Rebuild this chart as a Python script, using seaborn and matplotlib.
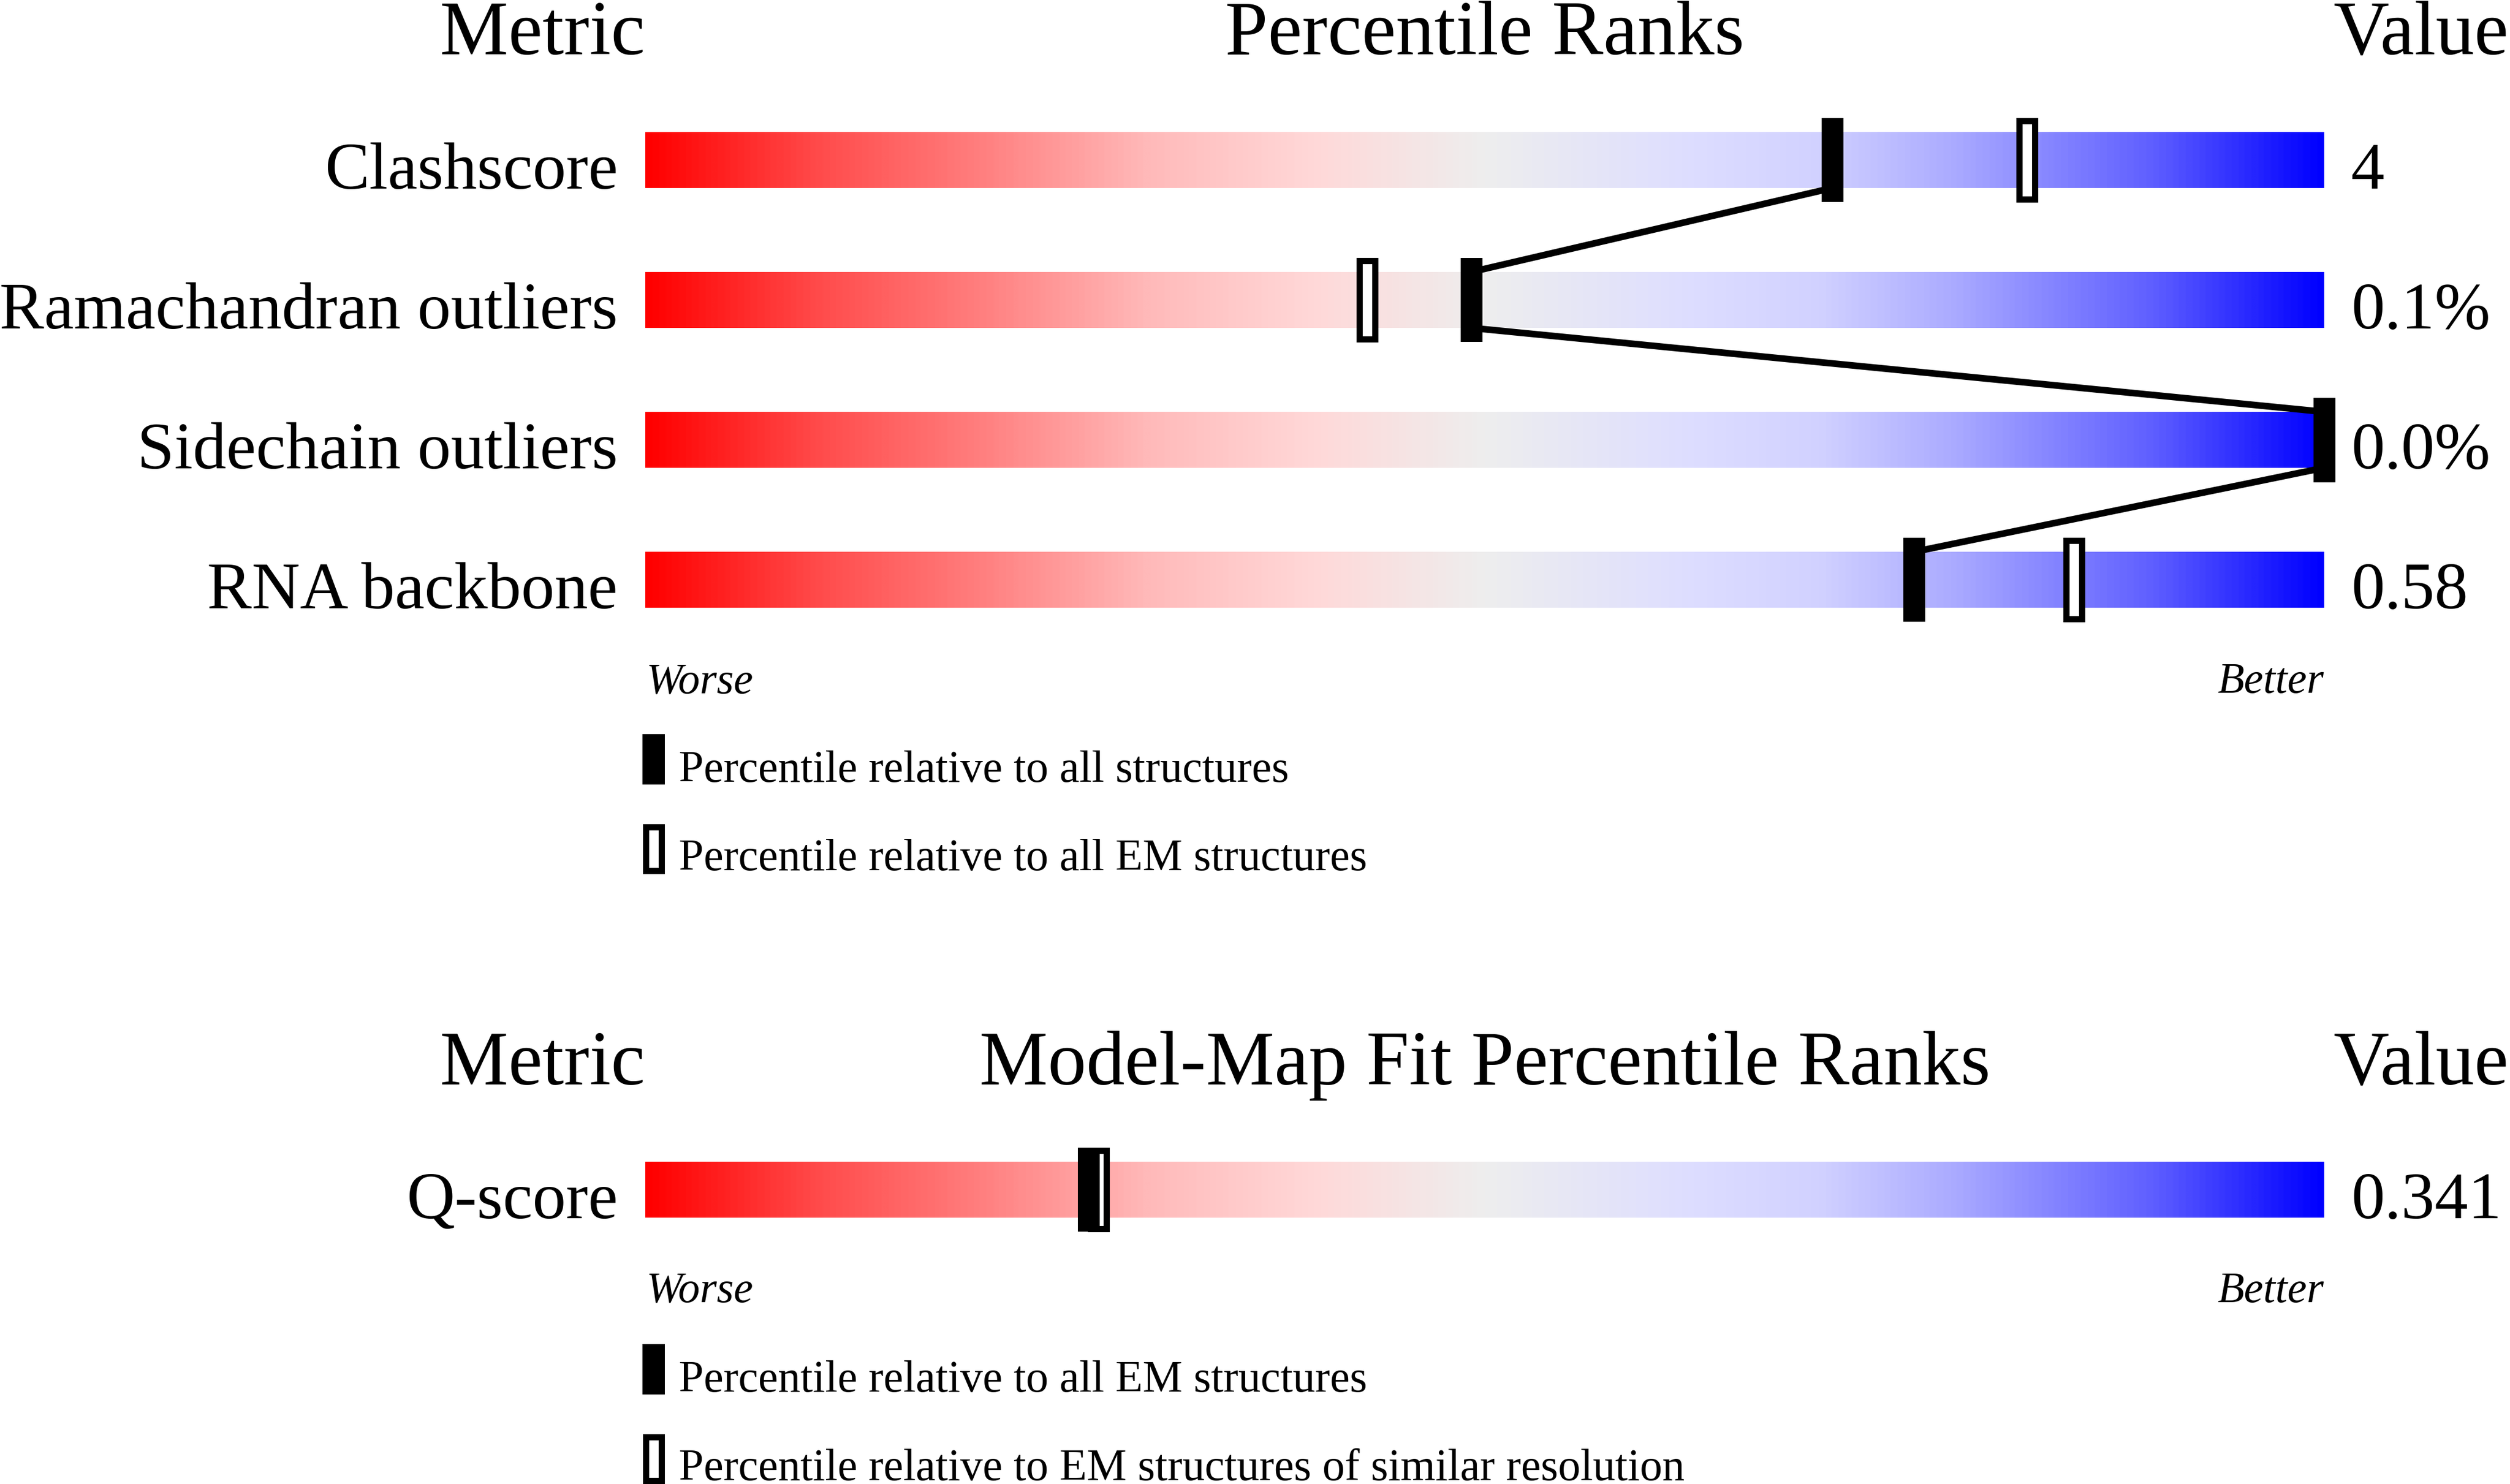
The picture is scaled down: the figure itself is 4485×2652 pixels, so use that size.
import matplotlib
matplotlib.use("Agg")
import numpy as np
import matplotlib.pyplot as plt
import seaborn as sns
from matplotlib.colors import LinearSegmentedColormap
from matplotlib.patches import Rectangle, ConnectionPatch

# %% data
metrics = ["Clashscore", "Ramachandran outliers", "Sidechain outliers", "RNA backbone"]
values = ["4", "0.1%", "0.0%", "0.58"]
pct_all = [70.7, 49.2, 100.0, 75.6]      # filled marker
pct_em = [82.3, 43.0, 100.0, 85.1]       # open marker

fit_metrics = ["Q-score"]
fit_values = ["0.341"]
fit_pct_em = [26.4]                      # filled marker
fit_pct_res = [27.0]                     # open marker

legend_top = ["Percentile relative to all structures",
              "Percentile relative to all EM structures"]
legend_fit = ["Percentile relative to all EM structures",
              "Percentile relative to EM structures of similar resolution"]

# %% style
sns.set_theme(style="white")
plt.rcParams["font.family"] = ["Liberation Serif", "DejaVu Serif"]
plt.rcParams["text.color"] = "black"

W, H = 4485, 2652
fig = plt.figure(figsize=(W / 100, H / 100), dpi=100)
fig.patch.set_facecolor("white")

def fx(px):
    return px / W

def fy(px):
    return 1 - px / H

grad_nodes = [
    (0.00, (1.00, 0.00, 0.00)),
    (0.10, (1.00, 0.29, 0.29)),
    (0.20, (1.00, 0.50, 0.50)),
    (0.30, (1.00, 0.73, 0.73)),
    (0.40, (1.00, 0.85, 0.85)),
    (0.50, (0.933, 0.933, 0.933)),
    (0.62, (0.87, 0.87, 1.00)),
    (0.70, (0.82, 0.82, 1.00)),
    (0.78, (0.67, 0.67, 1.00)),
    (0.90, (0.37, 0.37, 1.00)),
    (1.00, (0.00, 0.00, 1.00)),
]
cmap = LinearSegmentedColormap.from_list("slider", grad_nodes)
grad = np.linspace(0, 1, 1200).reshape(1, -1)

BAR_L, BAR_W = 1153, 3000
LABEL_X, VALUE_X = 1104, 4201
LABEL_FS, HEAD_FS, LEG_FS, WB_FS = 86, 99, 57.5, 56
EDGE = 8


def slider(bar_top):
    # axes spans the marker height: bar (0..1) plus 25px above and below
    ax = fig.add_axes([fx(BAR_L), fy(bar_top + 125), fx(BAR_W), 150 / H])
    ax.set_xlim(0, 100)
    ax.set_ylim(-0.25, 1.25)
    ax.axis("off")
    ax.imshow(grad, extent=[0, 100, 0, 1], aspect="auto", cmap=cmap,
              interpolation="bilinear")
    return ax


def markers(ax, p_fill, p_open):
    if p_open is not None:
        ax.bar(p_open, 1.4, bottom=-0.2, width=0.93, color="white",
               edgecolor="black", linewidth=EDGE, clip_on=False, zorder=3)
    ax.bar(p_fill, 1.5, bottom=-0.25, width=1.3, color="black",
           linewidth=0, clip_on=False, zorder=4)


def header(baseline, title):
    fig.text(fx(BAR_L), fy(baseline), "Metric", ha="right", va="baseline",
             fontsize=HEAD_FS)
    fig.text(fx(BAR_L + BAR_W / 2), fy(baseline), title, ha="center",
             va="baseline", fontsize=HEAD_FS)
    fig.text(fx(W - 2), fy(baseline), "Value", ha="right", va="baseline",
             fontsize=HEAD_FS)


def worse_better(baseline):
    fig.text(fx(BAR_L + 2), fy(baseline), "Worse", ha="left", va="baseline",
             fontsize=WB_FS, style="italic")
    fig.text(fx(BAR_L + BAR_W - 1), fy(baseline), "Better", ha="right",
             va="baseline", fontsize=WB_FS, style="italic")


def legend(top, texts):
    # filled marker then open marker, 160px apart
    fig.add_artist(Rectangle((fx(1148), fy(top + 90)), 40 / W, 90 / H,
                             transform=fig.transFigure, facecolor="black",
                             edgecolor="none"))
    fig.text(fx(1213), fy(top + 85), texts[0], ha="left", va="baseline",
             fontsize=LEG_FS)
    fig.add_artist(Rectangle((fx(1154), fy(top + 160 + 84)), 28 / W, 78 / H,
                             transform=fig.transFigure, facecolor="white",
                             edgecolor="black", linewidth=EDGE))
    fig.text(fx(1213), fy(top + 160 + 83), texts[1], ha="left",
             va="baseline", fontsize=LEG_FS)


# %% upper panel: percentile ranks
header(97, "Percentile Ranks")
axes = []
for i, name in enumerate(metrics):
    top = 236 + 250 * i
    ax = slider(top)
    markers(ax, pct_all[i], pct_em[i])
    axes.append(ax)
    fig.text(fx(LABEL_X), fy(top + 101), name, ha="right", va="baseline",
             fontsize=LABEL_FS)
    fig.text(fx(VALUE_X), fy(top + 101), values[i], ha="left", va="baseline",
             fontsize=LABEL_FS)

# lines joining the filled markers, bottom of one bar to top of the next
for i in range(len(axes) - 1):
    con = ConnectionPatch(xyA=(pct_all[i], 0), coordsA=axes[i].transData,
                          xyB=(pct_all[i + 1], 1), coordsB=axes[i + 1].transData,
                          color="black", linewidth=8.5, zorder=5)
    fig.add_artist(con)

worse_better(1238)
legend(1312, legend_top)

# %% lower panel: model-map fit
header(1938, "Model-Map Fit Percentile Ranks")
for i, name in enumerate(fit_metrics):
    top = 2076 + 250 * i
    ax = slider(top)
    markers(ax, fit_pct_em[i], fit_pct_res[i])
    fig.text(fx(LABEL_X), fy(top + 101), name, ha="right", va="baseline",
             fontsize=LABEL_FS)
    fig.text(fx(VALUE_X), fy(top + 101), fit_values[i], ha="left",
             va="baseline", fontsize=LABEL_FS)

worse_better(2327)
legend(2402, legend_fit)

fig.savefig("out.png", dpi=100, facecolor="white")
